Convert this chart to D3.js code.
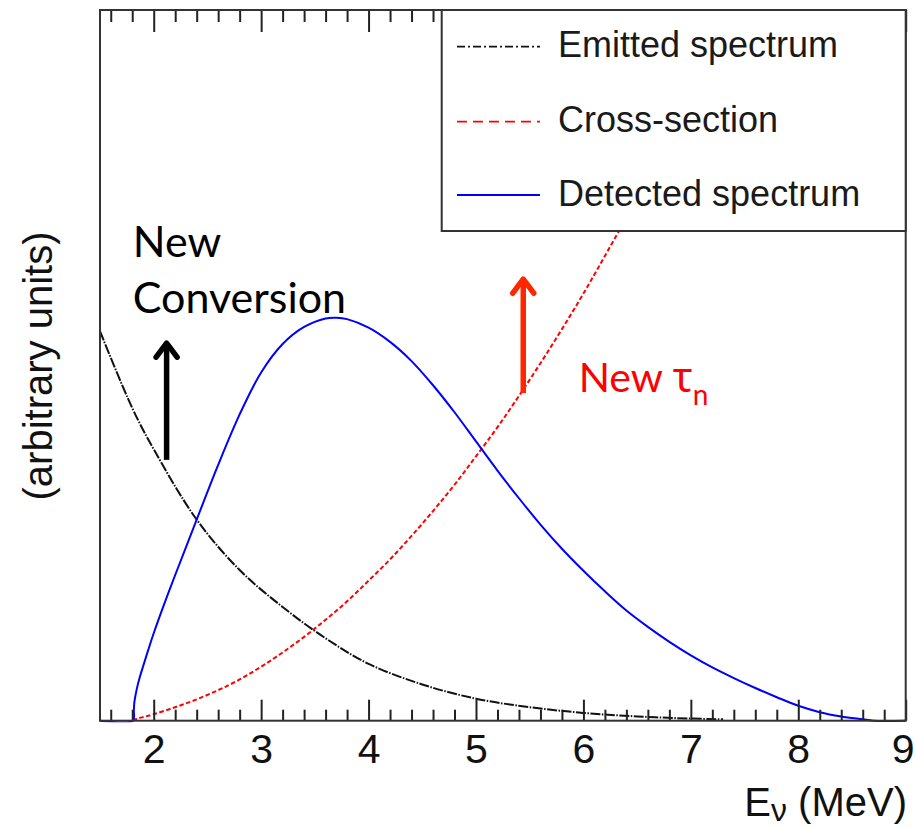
<!DOCTYPE html>
<html lang="en">
  <head>
    <meta charset="UTF-8" />
    <title>Neutrino spectrum</title>
    <style>
      body { margin: 0; background: #fff; }
    </style>
  </head>
  <body>
    <svg id="svg" width="915" height="827"></svg>

    <script src="https://cdn.jsdelivr.net/npm/d3@7"></script>
    <script>
      // energies (MeV) and values (arbitrary units)
      const emittedE = [1.5, 1.8, 2.0, 2.4, 2.8, 3.2, 3.6, 4.0, 4.5, 5.0, 5.5, 6.0, 6.5, 7.0, 7.3];
      const emitted = [0.548, 0.44, 0.382, 0.283, 0.212, 0.16, 0.116, 0.08, 0.051, 0.031, 0.019, 0.011, 0.006, 0.003, 0.002];

      const crossE = [1.806, 1.85, 1.9, 2.0, 2.2, 2.4, 2.6, 2.8, 3.0, 3.2, 3.4, 3.6, 3.8, 4.0, 4.2, 4.4, 4.6, 4.8, 5.0, 5.2, 5.4, 5.6, 5.8, 6.0, 6.2, 6.4, 6.6];
      const cross = [0, 0.003, 0.005, 0.009, 0.019, 0.03, 0.043, 0.058, 0.076, 0.096, 0.118, 0.142, 0.168, 0.197, 0.227, 0.26, 0.295, 0.332, 0.372, 0.413, 0.457, 0.503, 0.551, 0.601, 0.654, 0.708, 0.765];

      const detectedE = [1.5, 1.806, 1.815, 1.82, 1.84, 1.87, 1.9, 1.95, 2.0, 2.1, 2.2, 2.4, 2.6, 2.8, 3.0, 3.2, 3.4, 3.6, 3.7, 3.8, 4.0, 4.2, 4.4, 4.6, 4.8, 5.0, 5.2, 5.4, 5.6, 5.8, 6.0, 6.2, 6.4, 6.6, 6.8, 7.0, 7.2, 7.4, 7.6, 7.8, 8.0, 8.2, 8.4, 8.6, 8.7, 9.0];
      const detected = [0, 0, 0.015, 0.026, 0.043, 0.061, 0.076, 0.1, 0.123, 0.165, 0.205, 0.283, 0.36, 0.431, 0.49, 0.53, 0.554, 0.566, 0.567, 0.565, 0.553, 0.533, 0.506, 0.472, 0.434, 0.393, 0.352, 0.313, 0.276, 0.242, 0.211, 0.182, 0.155, 0.132, 0.111, 0.092, 0.075, 0.06, 0.046, 0.033, 0.021, 0.012, 0.006, 0.002, 0, 0];

      const majorTicks = [2, 3, 4, 5, 6, 7, 8, 9];
      const legendLabels = ["Emitted spectrum", "Cross-section", "Detected spectrum"];

      const svg = d3.select("#svg");
      const pLeft = 100, pRight = 905.7, pTop = 10, pBottom = 720.7;

      const x = d3.scaleLinear().domain([1.5, 9]).range([pLeft, pRight]);
      const y = d3.scaleLinear().domain([0, 1]).range([pBottom, pTop]);

      svg.append("clipPath").attr("id", "plot")
        .append("rect")
        .attr("x", pLeft).attr("y", pTop)
        .attr("width", pRight - pLeft).attr("height", pBottom - pTop + 1.5);

      const line = d3.line()
        .x((d) => x(d[0]))
        .y((d) => y(d[1]))
        .curve(d3.curveCatmullRom.alpha(0.5));

      const series = [
        { name: legendLabels[0], e: emittedE, v: emitted, color: "#111", dash: "10,1.5,1.5,1.5" },
        { name: legendLabels[1], e: crossE, v: cross, color: "#ff0000", dash: "4.5,2.5" },
        { name: legendLabels[2], e: detectedE, v: detected, color: "#0000ff", dash: null },
      ];

      const curves = svg.append("g").attr("clip-path", "url(#plot)");
      series.forEach((s) => {
        curves.append("path")
          .datum(s.e.map((e, i) => [e, s.v[i]]))
          .attr("d", line)
          .attr("fill", "none")
          .attr("stroke", s.color)
          .attr("stroke-width", 2)
          .attr("stroke-dasharray", s.dash);
      });

      // ticks (inward, top and bottom)
      const minorTicks = d3.range(16, 90, 2).map((d) => d / 10).filter((d) => d % 1 !== 0);

      function ticks(axisFn, ypos, big, small, labels) {
        const gMaj = svg.append("g").attr("transform", `translate(0,${ypos})`)
          .call(axisFn(x).tickValues(majorTicks).tickSize(big).tickPadding(13.5)
            .tickFormat(labels ? d3.format("d") : ""));
        const gMin = svg.append("g").attr("transform", `translate(0,${ypos})`)
          .call(axisFn(x).tickValues(minorTicks).tickSize(small).tickFormat(""));
        [gMaj, gMin].forEach((g) => {
          g.select(".domain").remove();
          g.selectAll("line").attr("stroke", "#222").attr("stroke-width", 2);
        });
        gMaj.selectAll("text")
          .attr("font-family", "'Liberation Sans', Arial, sans-serif")
          .attr("font-size", 41)
          .attr("fill", "#111")
          .attr("x", (d) => (d === 9 ? -3 : 0));
      }
      ticks(d3.axisBottom, pBottom, -21, -11, true);
      ticks(d3.axisTop, pTop, -22, -12, false);

      // frame
      svg.append("rect")
        .attr("x", pLeft).attr("y", pTop)
        .attr("width", pRight - pLeft).attr("height", pBottom - pTop)
        .attr("fill", "none").attr("stroke", "#333").attr("stroke-width", 2);

      // axis titles
      const xt = svg.append("text")
        .attr("x", 907).attr("y", 816)
        .attr("text-anchor", "end")
        .attr("font-family", "'Liberation Sans', Arial, sans-serif")
        .attr("font-size", 40)
        .attr("fill", "#111");
      xt.append("tspan").text("E");
      xt.append("tspan").attr("font-size", 32).attr("dy", 5).text("ν");
      xt.append("tspan").attr("dy", -5).text(" (MeV)");

      svg.append("text")
        .attr("transform", "translate(52,366) rotate(-90)")
        .attr("text-anchor", "middle")
        .attr("font-family", "'Liberation Sans', Arial, sans-serif")
        .attr("font-size", 40)
        .attr("fill", "#111")
        .text("(arbitrary units)");

      // legend
      const lg = svg.append("g");
      lg.append("rect")
        .attr("x", 441.7).attr("y", pTop)
        .attr("width", pRight - 441.7).attr("height", 221)
        .attr("fill", "#fff").attr("stroke", "#333").attr("stroke-width", 2);
      const legendDash = ["8,3,2,3", "10,6", null];
      const rowY = [46.7, 121.7, 195];
      series.forEach((s, i) => {
        lg.append("line")
          .attr("x1", 457).attr("x2", 540)
          .attr("y1", rowY[i]).attr("y2", rowY[i])
          .attr("stroke", s.color).attr("stroke-width", 1.8)
          .attr("stroke-dasharray", legendDash[i]);
        lg.append("text")
          .attr("x", 558).attr("y", rowY[i] + 10.5)
          .attr("font-family", "'Liberation Sans', Arial, sans-serif")
          .attr("font-size", 36)
          .attr("fill", "#1a1a1a")
          .text(s.name);
      });

      // annotations
      const arrows = [
        { e: 2.12, from: 0.367, to: 0.534, color: "#000" },
        { e: 5.44, from: 0.461, to: 0.624, color: "#ff2600" },
      ];
      arrows.forEach((a) => {
        const ax = x(a.e), y0 = y(a.from), y1 = y(a.to);
        svg.append("line")
          .attr("x1", ax).attr("x2", ax).attr("y1", y0).attr("y2", y1 + 2)
          .attr("stroke", a.color).attr("stroke-width", 5.5);
        svg.append("path")
          .attr("d", `M${ax - 10.5},${y1 + 16}L${ax},${y1 + 2}L${ax + 10.5},${y1 + 16}`)
          .attr("fill", "none").attr("stroke", a.color).attr("stroke-width", 5.5)
          .attr("stroke-linecap", "round").attr("stroke-linejoin", "round");
      });

      const noteFont = "Lato, 'Noto Sans', sans-serif";
      svg.append("text")
        .attr("x", x(1.805)).attr("y", y(0.652))
        .attr("font-family", noteFont).attr("font-size", 43).attr("fill", "#000")
        .text("New");
      svg.append("text")
        .attr("x", x(1.805)).attr("y", y(0.573))
        .attr("font-family", noteFont).attr("font-size", 43).attr("fill", "#000")
        .text("Conversion");
      const tau = svg.append("text")
        .attr("x", x(5.956)).attr("y", y(0.463))
        .attr("font-family", noteFont).attr("font-size", 41).attr("fill", "#ff0000");
      tau.append("tspan").text("New ");
      tau.append("tspan").attr("font-family", "'Noto Sans', sans-serif").text("τ");
      tau.append("tspan").attr("font-size", 28).attr("dy", 13).text("n");
    </script>
  </body>
</html>
